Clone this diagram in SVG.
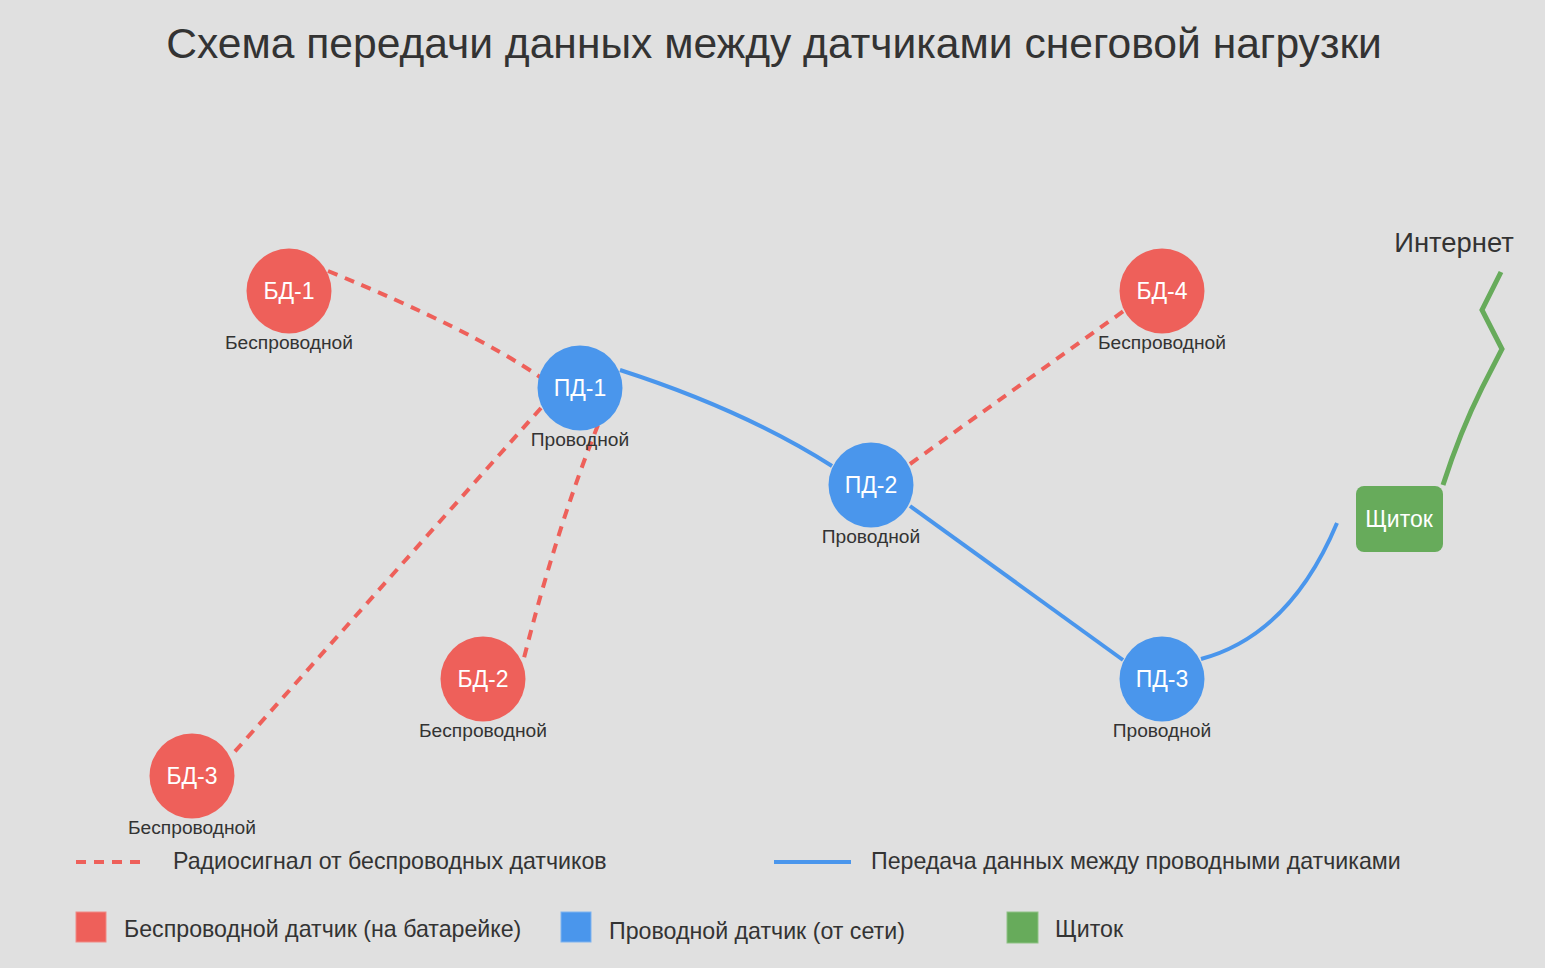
<svg xmlns="http://www.w3.org/2000/svg" width="1545" height="968" viewBox="0 0 1545 968">
<style>
text{font-family:"Liberation Sans",Arial,sans-serif;}
.title{font-size:42.6px;fill:#333;text-anchor:middle;}
.nl{font-size:23px;fill:#fff;text-anchor:middle;}
.sl{font-size:19.2px;fill:#333;text-anchor:middle;}
.lg{font-size:23.2px;fill:#333;}
.red{fill:#ee605a;}
.blue{fill:#4a96ec;}
.green{fill:#67ab5b;}
.radio{fill:none;stroke:#ee605a;stroke-width:4;stroke-dasharray:10 8;}
.wire{fill:none;stroke:#4a96ec;stroke-width:4;}
.net{fill:none;stroke:#67ab5b;stroke-width:5;}
</style>
<rect width="1545" height="968" fill="#e0e0e0"/>
<text class="title" x="774" y="58">Схема передачи данных между датчиками снеговой нагрузки</text>
<g id="connectors">
<path class="radio" d="M328 271 Q472 330 540 377"/>
<path class="radio" d="M541 408 L230 757"/>
<path class="radio" d="M598 425 Q556 530 523 662"/>
<path class="radio" d="M910 464 L1125 310"/>
<path class="wire" d="M620 370 Q744 410 832 466"/>
<path class="wire" d="M910 506 L1123 660"/>
<path class="wire" d="M1201 659 Q1290 635 1337 523"/>
<path class="net" d="M1443 485 Q1460 432 1482 388 L1502 349 L1482 310 L1501 272"/>
</g>
<g id="bd1"><circle class="red" cx="289" cy="291" r="42.5"/><text class="nl" x="289" y="299">БД-1</text><text class="sl" x="289" y="349">Беспроводной</text></g>
<g id="pd1"><circle class="blue" cx="580" cy="388" r="42.5"/><text class="nl" x="580" y="396">ПД-1</text><text class="sl" x="580" y="446">Проводной</text></g>
<g id="pd2"><circle class="blue" cx="871" cy="485" r="42.5"/><text class="nl" x="871" y="493">ПД-2</text><text class="sl" x="871" y="543">Проводной</text></g>
<g id="bd4"><circle class="red" cx="1162" cy="291" r="42.5"/><text class="nl" x="1162" y="299">БД-4</text><text class="sl" x="1162" y="349">Беспроводной</text></g>
<g id="bd2"><circle class="red" cx="483" cy="679" r="42.5"/><text class="nl" x="483" y="687">БД-2</text><text class="sl" x="483" y="737">Беспроводной</text></g>
<g id="bd3"><circle class="red" cx="192" cy="776" r="42.5"/><text class="nl" x="192" y="784">БД-3</text><text class="sl" x="192" y="834">Беспроводной</text></g>
<g id="pd3"><circle class="blue" cx="1162" cy="679" r="42.5"/><text class="nl" x="1162" y="687">ПД-3</text><text class="sl" x="1162" y="737">Проводной</text></g>
<g id="panel"><rect class="green" x="1356" y="486" width="87" height="66" rx="8"/><text class="nl" x="1399" y="527">Щиток</text></g>
<g id="internet"><text x="1454" y="252" style="font-size:27.4px;fill:#333;text-anchor:middle">Интернет</text></g>
<g id="legend">
<line class="radio" x1="76" y1="862" x2="144" y2="862"/>
<text class="lg" x="173" y="869">Радиосигнал от беспроводных датчиков</text>
<line class="wire" x1="774" y1="862" x2="851" y2="862"/>
<text class="lg" x="871" y="869">Передача данных между проводными датчиками</text>
<rect class="red" x="76" y="912" width="30" height="30" stroke="#f08a85" stroke-width="1"/>
<text class="lg" x="124" y="937">Беспроводной датчик (на батарейке)</text>
<rect class="blue" x="561" y="912" width="30" height="30" stroke="#7fb3ef" stroke-width="1"/>
<text class="lg" x="609" y="939">Проводной датчик (от сети)</text>
<rect class="green" x="1007" y="912" width="31" height="31" stroke="#8fc285" stroke-width="1"/>
<text class="lg" x="1055" y="937">Щиток</text>
</g>
</svg>
